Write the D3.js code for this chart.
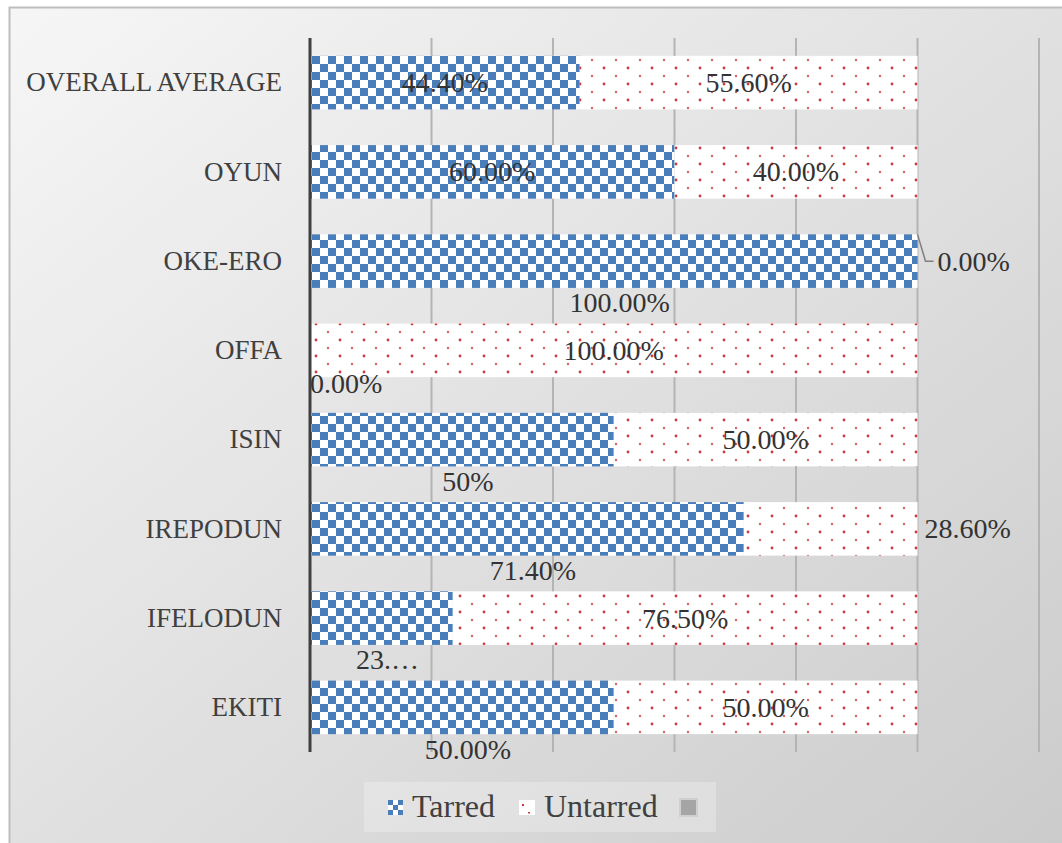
<!DOCTYPE html>
<html>
<head>
<meta charset="utf-8">
<script src="https://cdn.jsdelivr.net/npm/d3@7"></script>
<style>
  html, body { margin: 0; padding: 0; background: #ffffff; }
  svg { display: block; }
</style>
</head>
<body>
<svg id="chart" width="1062" height="843"></svg>
<script>
// ---- data ----
const categories = ["OVERALL AVERAGE", "OYUN", "OKE-ERO", "OFFA ", "ISIN", "IREPODUN", "IFELODUN", "EKITI"];
const tarred   = [0.444, 0.60, 1.00, 0.00, 0.50, 0.714, 0.235, 0.50];
const untarred = [0.556, 0.40, 0.00, 1.00, 0.50, 0.286, 0.765, 0.50];
const tarredLabels   = ["44.40%", "60.00%", "100.00%", "0.00%", "50%", "71.40%", "23.…", "50.00%"];
const untarredLabels = ["55.60%", "40.00%", "0.00%", "100.00%", "50.00%", "28.60%", "76.50%", "50.00%"];
// label placement mode per point (Excel "best fit" result)
const tarredPlace   = ["center", "center", "below", "belowLeft", "below", "below", "below", "below"];
const untarredPlace = ["center", "center", "rightLeader", "center", "center", "right", "center", "center"];
const seriesNames = ["Tarred", "Untarred", ""];
const xTicks = [0, 0.2, 0.4, 0.6, 0.8, 1.0, 1.2];

// ---- setup ----
const svg = d3.select("#chart");
const defs = svg.append("defs");

const bg = defs.append("linearGradient").attr("id", "bg")
  .attr("x1", "0").attr("y1", "0").attr("x2", "1").attr("y2", "1");
bg.append("stop").attr("offset", "0%").attr("stop-color", "#f6f6f6");
bg.append("stop").attr("offset", "100%").attr("stop-color", "#cbcbcb");

const BLUE = "#4a7ebb", RED = "#d0383a";

// checkerboard pattern
const chk = defs.append("pattern").attr("id", "checker")
  .attr("patternUnits", "userSpaceOnUse").attr("width", 16).attr("height", 16);
chk.append("rect").attr("width", 16).attr("height", 16).attr("fill", "#ffffff");
chk.append("rect").attr("x", 0).attr("y", 0).attr("width", 8).attr("height", 8).attr("fill", BLUE);
chk.append("rect").attr("x", 8).attr("y", 8).attr("width", 8).attr("height", 8).attr("fill", BLUE);

// dotted pattern
const dot = defs.append("pattern").attr("id", "dots")
  .attr("patternUnits", "userSpaceOnUse").attr("width", 24).attr("height", 16);
dot.append("rect").attr("width", 24).attr("height", 16).attr("fill", "#ffffff");
dot.append("circle").attr("cx", 4).attr("cy", 4).attr("r", 1.4).attr("fill", RED);
dot.append("circle").attr("cx", 16).attr("cy", 12).attr("r", 1.2).attr("fill", RED).attr("opacity", 0.8);

// small legend patterns
const chkS = defs.append("pattern").attr("id", "checkerS")
  .attr("patternUnits", "userSpaceOnUse").attr("width", 10).attr("height", 10)
  .attr("x", 388).attr("y", 800);
chkS.append("rect").attr("width", 10).attr("height", 10).attr("fill", "#ffffff");
chkS.append("rect").attr("x", 0).attr("y", 0).attr("width", 5).attr("height", 5).attr("fill", BLUE);
chkS.append("rect").attr("x", 5).attr("y", 5).attr("width", 5).attr("height", 5).attr("fill", BLUE);

// chart frame
svg.append("rect").attr("x", 9.5).attr("y", 7.5).attr("width", 1062).attr("height", 850)
  .attr("fill", "url(#bg)").attr("stroke", "#bdbdbd").attr("stroke-width", 2);

// ---- scales ----
const x = d3.scaleLinear().domain([0, 1.2]).range([310, 1039]);
const y = d3.scaleBand().domain(categories).range([38, 752]).paddingInner(0.4).paddingOuter(0.2);

// gridlines
svg.append("g").selectAll("line").data(xTicks.slice(1)).join("line")
  .attr("x1", d => x(d)).attr("x2", d => x(d))
  .attr("y1", 38).attr("y2", 752)
  .attr("stroke", "#b4b4b4").attr("stroke-width", 2);

// bars
const rows = categories.map((c, i) => ({ c, i, t: tarred[i], u: untarred[i] }));
const bars = svg.append("g");
bars.selectAll("rect.t").data(rows).join("rect").attr("class", "t")
  .attr("x", x(0)).attr("y", d => y(d.c))
  .attr("width", d => x(d.t) - x(0)).attr("height", y.bandwidth())
  .attr("fill", "url(#checker)");
bars.selectAll("rect.u").data(rows).join("rect").attr("class", "u")
  .attr("x", d => x(d.t)).attr("y", d => y(d.c))
  .attr("width", d => x(d.t + d.u) - x(d.t)).attr("height", y.bandwidth())
  .attr("fill", "url(#dots)");

const LF = "'Liberation Serif', 'Times New Roman', serif";

// axis (vertical category axis)
const yAxis = svg.append("g").attr("transform", `translate(${x(0)},0)`)
  .call(d3.axisLeft(y).tickSize(0).tickPadding(28));
yAxis.select(".domain").attr("d", `M0,38V752`).attr("stroke", "#404040").attr("stroke-width", 3);
yAxis.selectAll("text")
  .attr("font-family", LF)
  .attr("font-size", 27).attr("fill", "#404040");

// ---- data labels ----
const labG = svg.append("g").attr("font-family", LF).attr("font-size", 28).attr("fill", "#333333");

function placeLabel(mode, x0, x1, cat, text) {
  const cy = y(cat) + y.bandwidth() / 2;
  const bottom = y(cat) + y.bandwidth();
  const t = labG.append("text").text(text).attr("dominant-baseline", "central");
  if (mode === "center") {
    t.attr("x", (x0 + x1) / 2).attr("y", cy).attr("text-anchor", "middle");
  } else if (mode === "below") {
    t.attr("x", (x0 + x1) / 2 + 6).attr("y", bottom + 15).attr("text-anchor", "middle");
  } else if (mode === "belowLeft") {
    t.attr("x", x0).attr("y", bottom + 6).attr("text-anchor", "start");
  } else if (mode === "right") {
    t.attr("x", x1 + 7).attr("y", cy).attr("text-anchor", "start");
  } else if (mode === "rightLeader") {
    t.attr("x", x1 + 20).attr("y", cy).attr("text-anchor", "start");
    svg.append("path")
      .attr("d", `M${x1},${y(cat)}L${x1 + 8},${cy}H${x1 + 16}`)
      .attr("fill", "none").attr("stroke", "#7f7f7f").attr("stroke-width", 1.5);
  }
}

rows.forEach(d => {
  placeLabel(tarredPlace[d.i], x(0), x(d.t), d.c, tarredLabels[d.i]);
  placeLabel(untarredPlace[d.i], x(d.t), x(d.t + d.u), d.c, untarredLabels[d.i]);
});

// ---- legend ----
const lg = svg.append("g");
lg.append("rect").attr("x", 364).attr("y", 782).attr("width", 352).attr("height", 50)
  .attr("fill", "#ffffff").attr("opacity", 0.25);
lg.append("rect").attr("x", 388).attr("y", 800).attr("width", 15).attr("height", 15)
  .attr("fill", "url(#checkerS)");
lg.append("rect").attr("x", 519).attr("y", 800).attr("width", 16).attr("height", 15)
  .attr("fill", "#ffffff");
lg.append("rect").attr("x", 522).attr("y", 804).attr("width", 2).attr("height", 2).attr("fill", RED);
lg.append("rect").attr("x", 528).attr("y", 812).attr("width", 2).attr("height", 1.5).attr("fill", RED);
lg.append("rect").attr("x", 680).attr("y", 799).attr("width", 17).attr("height", 17)
  .attr("fill", "#a5a5a5").attr("stroke", "#cfcfcf").attr("stroke-width", 2);
const legX = [412, 544, 705];
seriesNames.forEach((s, i) => {
  if (!s) return;
  lg.append("text").text(s).attr("x", legX[i]).attr("y", 806)
    .attr("dominant-baseline", "central")
    .attr("font-family", LF).attr("font-size", 32).attr("fill", "#404040");
});
</script>
</body>
</html>
